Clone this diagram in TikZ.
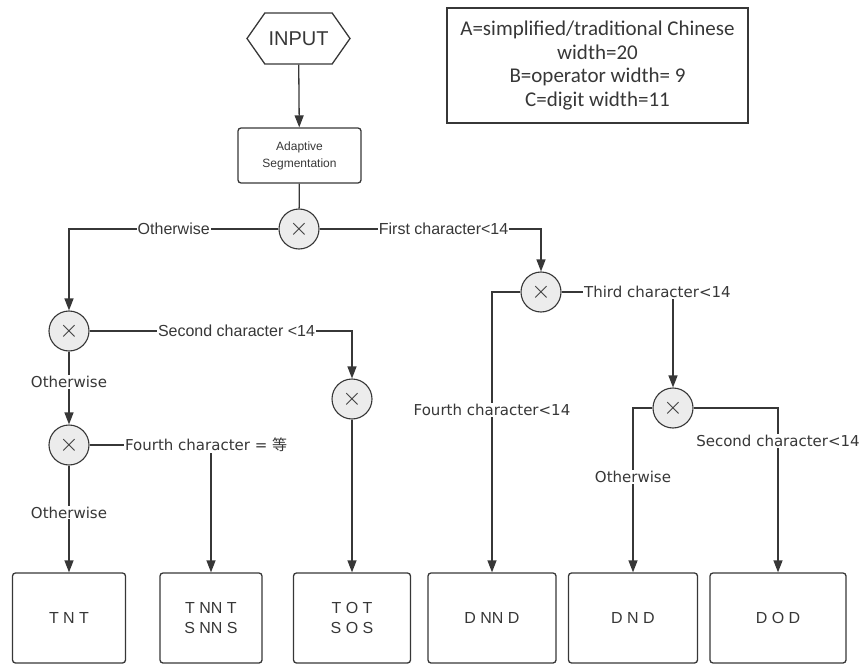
\documentclass[tikz,border=0pt]{standalone}
\usepackage{fontspec}
\setmainfont{Liberation Sans}
\newfontfamily\dejavu{DejaVu Sans}
\newfontfamily\carlito{Carlito}
\newfontfamily\cjk{Noto Sans CJK SC}
\usetikzlibrary{arrows.meta,shapes.symbols}
\definecolor{ink}{RGB}{55,55,55}
\definecolor{disc}{RGB}{236,236,236}

\begin{document}
\begin{tikzpicture}[x=1pt,y=-1pt,line width=1.3pt,color=ink]
          \tikzstyle{term} = [signal, signal to=west and east, signal pointer angle=110, draw, minimum width=103pt, minimum height=51pt, inner sep=0pt, font=\fontsize{20}{24}\selectfont]
          \tikzstyle{proc} = [draw, rounded corners=3pt, minimum width=123pt, minimum height=55pt, align=center, font=\fontsize{12}{17}\selectfont]
          \tikzstyle{dec} = [circle, draw, fill=disc, minimum size=40pt, inner sep=0pt, line width=1.1pt, font=\fontsize{28}{28}\selectfont]
          \tikzstyle{leaf} = [draw, rounded corners=3pt, minimum height=90pt, inner sep=0pt, align=center, font=\fontsize{16}{20}\selectfont]
          \tikzstyle{lab} = [fill=white, inner sep=1pt, font=\fontsize{16}{18}\selectfont]
          \tikzstyle{labd} = [fill=white, inner sep=1pt, font=\dejavu\fontsize{15}{18}\selectfont]
          \tikzstyle{flow} = [-{Triangle[length=12pt,width=9pt]}]
        \useasboundingbox (0,0) rectangle (862,666);
        % legend
        \node[draw, line width=1.5pt, minimum width=301pt, minimum height=115pt, align=center, font=\carlito\fontsize{21}{23.5}\selectfont] (key) at (597.5,65.5) {A=simplified/traditional Chinese\\width=20\\B=operator width= 9\\C=digit width=11};
        % input and segmentation
        \node[term] (in) at (298.5,38.5) {INPUT};
        \node[proc] (seg) at (299.5,155.5) {Adaptive\\Segmentation};
        % decisions
        \node[dec] (x1) at (299,229) {$\times$};
        \node[dec] (x2) at (69,331) {$\times$};
        \node[dec] (x3) at (541,292) {$\times$};
        \node[dec] (x4) at (673,408) {$\times$};
        \node[dec] (x5) at (352,399) {$\times$};
        \node[dec] (x6) at (69,445) {$\times$};
        % outcomes
        \node[leaf, minimum width=113pt] (tnt) at (69,618) {T N T};
        \node[leaf, minimum width=102pt] (tnnt) at (211,618) {T NN T\\S NN S};
        \node[leaf, minimum width=117pt] (tot) at (352,618) {T O T\\S O S};
        \node[leaf, minimum width=128pt] (dnnd) at (492,618) {D NN D};
        \node[leaf, minimum width=129pt] (dnd) at (633,618) {D N D};
        \node[leaf, minimum width=136pt] (dod) at (778,618) {D O D};
        \begin{scope}
          \draw[flow] (in) -- (seg);
          \draw (seg) -- (x1);
          \draw[flow] (x1) -| node[lab, pos=0.25] {Otherwise} (x2);
          \draw[flow] (x1) -| node[lab, pos=0.28] {First character<14} (x3);
          \draw[flow] (x3) -| node[labd, pos=0.71] {Fourth character<14} (dnnd);
          \draw[flow] (x3) -| node[labd, pos=0.43] {Third character<14} (x4);
          \draw[flow] (x4) -| node[labd, pos=0.71] {Otherwise} (dnd);
          \draw[flow] (x4) -| node[labd, pos=0.6] {Second character<14} (dod);
          \draw[flow] (x2) -| node[lab, pos=0.28] {Second character <14} (x5);
          \draw[flow] (x2) -- node[labd, pos=0.42] {Otherwise} (x6);
          \draw[flow] (x6) -| node[labd, pos=0.48] {Fourth character = {\cjk 等}} (tnnt);
          \draw[flow] (x6) -- node[labd, pos=0.44] {Otherwise} (tnt);
          \draw[flow] (x5) -- (tot);
        \end{scope}
      \end{tikzpicture}
\end{document}
